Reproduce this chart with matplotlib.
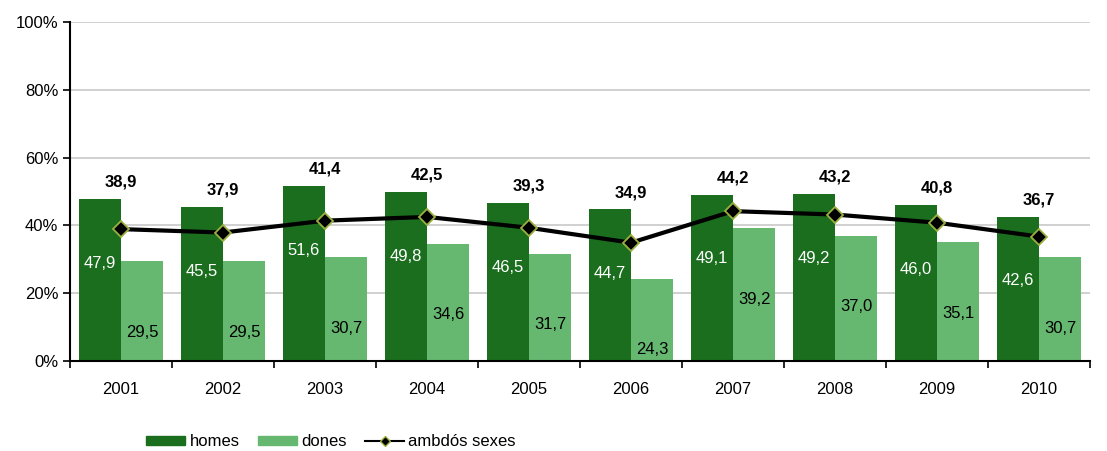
import matplotlib
matplotlib.use("Agg")
import matplotlib.pyplot as plt
from matplotlib.lines import Line2D
from matplotlib.patches import Patch
import numpy as np

years = ["2001", "2002", "2003", "2004", "2005", "2006", "2007", "2008", "2009", "2010"]
homes = [47.9, 45.5, 51.6, 49.8, 46.5, 44.7, 49.1, 49.2, 46.0, 42.6]
dones = [29.5, 29.5, 30.7, 34.6, 31.7, 24.3, 39.2, 37.0, 35.1, 30.7]
ambdos = [38.9, 37.9, 41.4, 42.5, 39.3, 34.9, 44.2, 43.2, 40.8, 36.7]
y_ticks = [0, 20, 40, 60, 80, 100]

plt.rcParams['font.family'] = ['Liberation Sans', 'DejaVu Sans']

dark = "#1a6e1e"
light = "#66b870"

fig = plt.figure(figsize=(11.07, 4.51), dpi=100)
ax = fig.add_axes([70/1107, 1 - 361/451, 1020/1107, 339/451])

x = np.arange(len(years))
w = 0.415
ax.bar(x - w/2, homes, width=w, color=dark, zorder=2)
ax.bar(x + w/2, dones, width=w, color=light, zorder=2)
ax.plot(x, ambdos, color="black", lw=3, marker="D", ms=8.5,
        markerfacecolor="black", markeredgecolor="#9cb040", markeredgewidth=1.3, zorder=4)

fs = 12
for i in range(len(years)):
    ax.text(x[i] - w/2, homes[i] - 19, f"{homes[i]:.1f}".replace(".", ","),
            ha="center", va="center", color="white", fontsize=fs, zorder=5)
    ax.text(x[i] + w/2, dones[i] - 21, f"{dones[i]:.1f}".replace(".", ","),
            ha="center", va="center", color="black", fontsize=fs, zorder=5)
    ax.text(x[i], homes[i] + 5, f"{ambdos[i]:.1f}".replace(".", ","),
            ha="center", va="center", color="black", fontsize=fs, fontweight="bold", zorder=5)

ax.set_xlim(-0.5, len(years) - 0.5)
ax.set_ylim(0, 100)
ax.set_yticks(y_ticks)
ax.set_yticklabels([f"{t}%" for t in y_ticks], fontsize=fs)
ax.yaxis.grid(True, color="#c8c8c8", lw=1.2, zorder=0)
ax.set_axisbelow(True)

ax.set_xticks(x)
ax.set_xticklabels(years, fontsize=fs)
ax.tick_params(axis="x", which="major", length=0, pad=15)
ax.set_xticks(np.arange(len(years) + 1) - 0.5, minor=True)
ax.tick_params(axis="x", which="minor", length=5, width=1.2, direction="out")
ax.tick_params(axis="y", length=5, width=1.2, direction="out")

for s in ["top", "right"]:
    ax.spines[s].set_visible(False)
ax.spines["left"].set_linewidth(1.5)
ax.spines["bottom"].set_linewidth(1.5)

handles = [Patch(color=dark), Patch(color=light),
           Line2D([0], [0], color="black", lw=1.5, marker="D", ms=5,
                  markerfacecolor="black", markeredgecolor="#9cb040")]
fig.legend(handles, ["homes", "dones", "ambdós sexes"], loc="center",
           bbox_to_anchor=(331/1107, 1 - 442/451), ncol=3, frameon=False,
           fontsize=fs, handlelength=2.35, handleheight=0.45, columnspacing=1.1,
           handletextpad=0.25)

fig.savefig("out.png", dpi=100)
